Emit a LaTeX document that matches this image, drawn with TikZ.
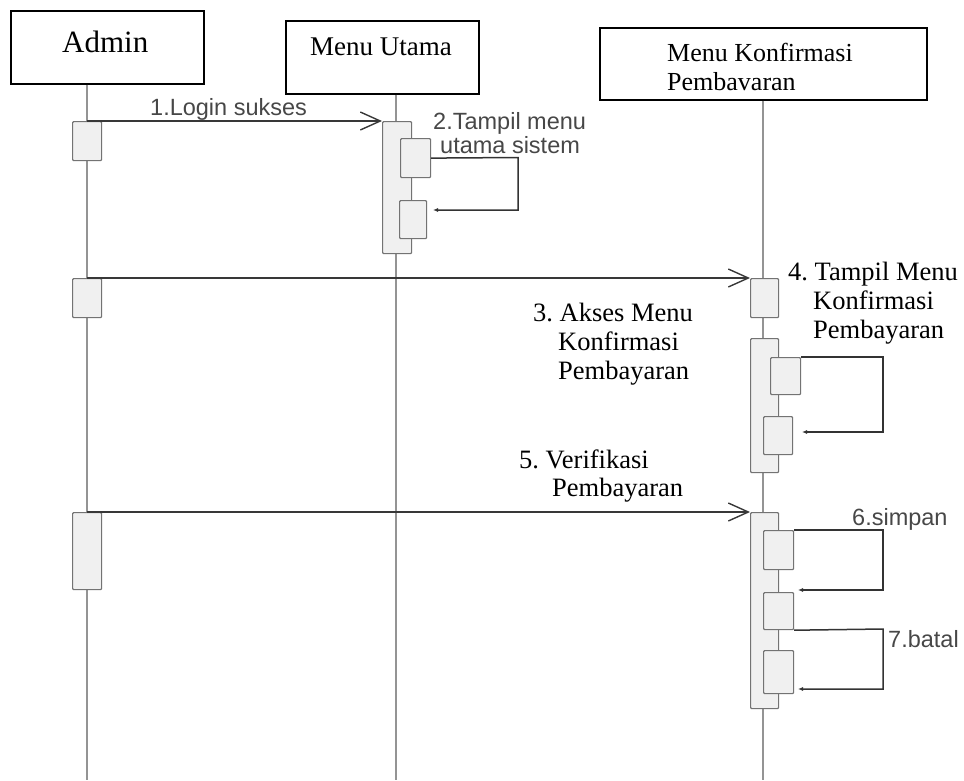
\documentclass[tikz,border=0pt]{standalone}
\usepackage{fontspec}
\setmainfont{Liberation Serif}
\newfontfamily\arialf{Liberation Sans}
\usetikzlibrary{arrows.meta}
\frenchspacing
\begin{document}
\begin{tikzpicture}[x=1pt,y=-1pt,
  head/.style={draw=black,line width=1.5pt,fill=white,inner sep=0pt,anchor=north west},
  ttl/.style={font=\fontsize{26.5}{30}\selectfont,inner sep=0pt,anchor=base west,text=black},
  slbl/.style={font=\arialf\fontsize{23.5}{25}\selectfont,inner sep=0pt,anchor=base west,text=black!72},
  life/.style={draw=black!42,line width=1.5pt},
  act/.style={draw=black!55,fill=black!6,line width=1.2pt,inner sep=0pt,anchor=north west,minimum width=29pt,rounded corners=1pt},
  msg/.style={draw=black!78,line width=1.4pt,-{Straight Barb[length=20pt,width=18pt,line width=1.4pt]}},
  selfmsg/.style={draw=black!80,line width=1.5pt,-{Latex[length=5pt,width=4pt]}}]
\useasboundingbox (0,0) rectangle (964,780);
% heads
\node[head,minimum width=193pt,minimum height=73pt] (admin) at (10,10) {};
\node[head,minimum width=193pt,minimum height=73pt] (mutama) at (285,20) {};
\node[head,minimum width=327pt,minimum height=72pt] (mkonf) at (599,27) {};
\node[ttl,font=\fontsize{31}{30}\selectfont] (admint) at (62,52) {Admin};
\node[ttl,font=\fontsize{27}{30}\selectfont] (mutamat) at (310,55) {Menu Utama};
\node[ttl,font=\fontsize{26}{30}\selectfont] (mkonft1) at (667,61) {Menu Konfirmasi};
\node[ttl,font=\fontsize{26}{30}\selectfont] (mkonft2) at (667,90) {Pembavaran};
% lifelines
\coordinate (la) at (87,780);
\coordinate (lb) at (396,780);
\coordinate (lc) at (763,780);
\draw[life] (la |- admin.south) -- (la);
\draw[life] (lb |- mutama.south) -- (lb);
\draw[life] (lc |- mkonf.south) -- (lc);
% activations: Admin
\node[act,minimum height=39pt] (a1) at (72,121) {};
\node[act,minimum height=39pt] (a2) at (72,278) {};
\node[act,minimum height=77pt] (a3) at (72,512) {};
% Menu Utama
\node[act,minimum height=132pt] (mu) at (382,121) {};
\node[act,minimum height=39pt,minimum width=30pt] (mui1) at (400,138) {};
\node[act,minimum height=38pt,minimum width=27pt] (mui2) at (399,200) {};
% Menu Konfirmasi
\node[act,minimum height=39pt,minimum width=28pt] (k1) at (750,278) {};
\node[act,minimum height=134pt,minimum width=28pt] (k2) at (750,338) {};
\node[act,minimum height=37pt,minimum width=30pt] (k2i1) at (770,357) {};
\node[act,minimum height=38pt,minimum width=29pt] (k2i2) at (763,416) {};
\node[act,minimum height=196pt,minimum width=28pt] (k3) at (750,512) {};
\node[act,minimum height=39pt,minimum width=30pt] (k3i1) at (763,530) {};
\node[act,minimum height=37pt,minimum width=30pt] (k3i2) at (763,592) {};
\node[act,minimum height=43pt,minimum width=30pt] (k3i3) at (763,650) {};
% messages
\draw[msg] (a1.north) -- (mu.north west);
\draw[msg] (a2.north) -- (k1.north west);
\draw[msg] (a3.north) -- (k3.north west);
% self messages
\coordinate (s2a) at (518,157.5);
\coordinate (s2b) at (518,210);
\coordinate (s2e) at (433,210);
\draw[selfmsg] (mui1.east) -- (s2a) -- (s2b) -- (s2e);
\coordinate (s4a) at (883,357);
\coordinate (s4b) at (883,432);
\coordinate (s4e) at (802,432);
\draw[selfmsg] (k2i1.north east) -- (s4a) -- (s4b) -- (s4e);
\coordinate (s6a) at (883,530);
\coordinate (s6b) at (883,590);
\coordinate (s6e) at (798,590);
\draw[selfmsg] (k3i1.north east) -- (s6a) -- (s6b) -- (s6e);
\coordinate (s7a) at (883,629);
\coordinate (s7b) at (883,689);
\coordinate (s7e) at (798,689);
\draw[selfmsg] (k3i2.south east) -- (s7a) -- (s7b) -- (s7e);
% labels
\node[slbl] (l1) at (150,115) {1.Login sukses};
\node[slbl] (l2a) at (433,129) {2.Tampil menu};
\node[slbl] (l2b) at (440,153) {utama sistem};
\node[ttl] (l3a) at (533,321) {3. Akses Menu};
\node[ttl] (l3b) at (558,350) {Konfirmasi};
\node[ttl] (l3c) at (558,379) {Pembayaran};
\node[ttl] (l4a) at (788,280) {4. Tampil Menu};
\node[ttl] (l4b) at (813,309) {Konfirmasi};
\node[ttl] (l4c) at (813,338) {Pembayaran};
\node[ttl] (l5a) at (519,468) {5. Verifikasi};
\node[ttl] (l5b) at (552,496) {Pembayaran};
\node[slbl] (l6) at (852,525) {6.simpan};
\node[slbl] (l7) at (888,647) {7.batal};
\end{tikzpicture}
\end{document}
